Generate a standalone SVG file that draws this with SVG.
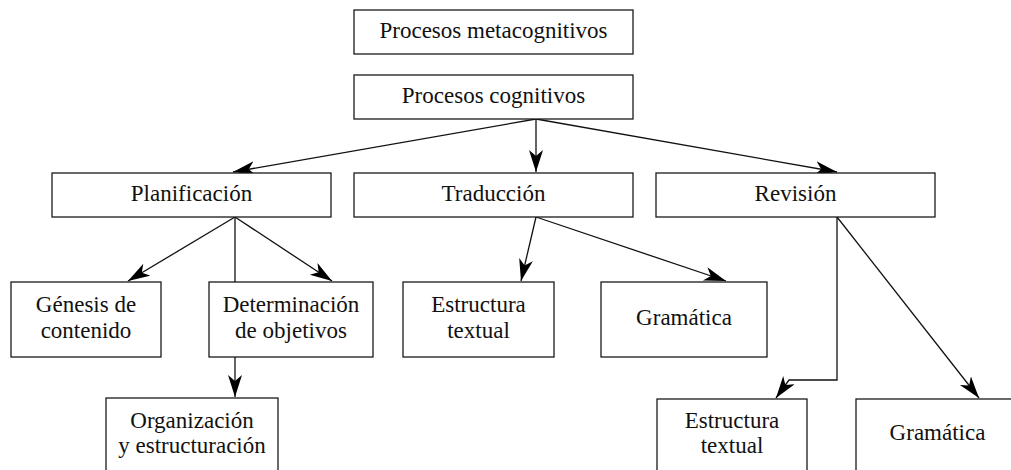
<svg xmlns="http://www.w3.org/2000/svg" width="1011" height="470" viewBox="0 0 1011 470">
<style>
.box{fill:#fff;stroke:#1a1a1a;stroke-width:1.3}
.t{font-size:23px;fill:#111;text-anchor:middle}
.c{fill:none;stroke:#111;stroke-width:1.3}
</style>
<defs>
<marker id="ah" markerUnits="userSpaceOnUse" markerWidth="24" markerHeight="16" viewBox="0 0 24 16" refX="22" refY="7" orient="auto">
<path d="M0,0 L22,7 L0,14 L6,7 Z" fill="#000"/>
</marker>
</defs>
<rect width="1011" height="470" fill="#fff"/>
<g id="connectors">
<line class="c" x1="536" y1="119" x2="233" y2="172" marker-end="url(#ah)"/>
<line class="c" x1="536" y1="119" x2="536" y2="172" marker-end="url(#ah)"/>
<line class="c" x1="536" y1="119" x2="837" y2="172" marker-end="url(#ah)"/>
<line class="c" x1="235" y1="217" x2="128" y2="281" marker-end="url(#ah)"/>
<line class="c" x1="235" y1="217" x2="332" y2="281" marker-end="url(#ah)"/>
<line class="c" x1="235" y1="217" x2="235" y2="282"/>
<line class="c" x1="235" y1="357" x2="235" y2="397" marker-end="url(#ah)"/>
<line class="c" x1="536" y1="217" x2="521" y2="281" marker-end="url(#ah)"/>
<line class="c" x1="536" y1="217" x2="726" y2="281" marker-end="url(#ah)"/>
<polyline class="c" points="837,217 837,380 789,380 776,398" marker-end="url(#ah)"/>
<line class="c" x1="837" y1="217" x2="979" y2="398" marker-end="url(#ah)"/>
</g>
<g font-family="'Liberation Serif', 'Times New Roman', 'DejaVu Serif', serif">
<g id="metacog"><rect class="box" x="354" y="10" width="279" height="44"/><text class="t" x="493.5" y="38">Procesos metacognitivos</text></g>
<g id="cog"><rect class="box" x="354" y="75" width="279" height="44"/><text class="t" x="493.5" y="103">Procesos cognitivos</text></g>
<g id="plan"><rect class="box" x="52" y="173" width="279" height="44"/><text class="t" x="191.5" y="201">Planificación</text></g>
<g id="trad"><rect class="box" x="354" y="173" width="279" height="44"/><text class="t" x="493.5" y="201">Traducción</text></g>
<g id="rev"><rect class="box" x="656" y="173" width="279" height="44"/><text class="t" x="795.5" y="201">Revisión</text></g>
<g id="genesis"><rect class="box" x="11" y="282" width="150" height="75"/><text class="t" x="86" y="312">Génesis de</text><text class="t" x="86" y="338">contenido</text></g>
<g id="determ"><rect class="box" x="209" y="282" width="164" height="75"/><text class="t" x="291" y="312">Determinación</text><text class="t" x="291" y="338">de objetivos</text></g>
<g id="org"><rect class="box" x="106" y="398" width="172" height="100"/><text class="t" x="192" y="428">Organización</text><text class="t" x="192" y="453">y estructuración</text></g>
<g id="est1"><rect class="box" x="403" y="282" width="151" height="75"/><text class="t" x="478.5" y="312">Estructura</text><text class="t" x="478.5" y="338">textual</text></g>
<g id="gram1"><rect class="box" x="601" y="282" width="166" height="75"/><text class="t" x="684" y="325">Gramática</text></g>
<g id="est2"><rect class="box" x="657" y="399" width="150" height="100"/><text class="t" x="732" y="428">Estructura</text><text class="t" x="732" y="453">textual</text></g>
<g id="gram2"><rect class="box" x="856" y="399" width="170" height="100"/><text class="t" x="937.5" y="440">Gramática</text></g>
</g>
</svg>
